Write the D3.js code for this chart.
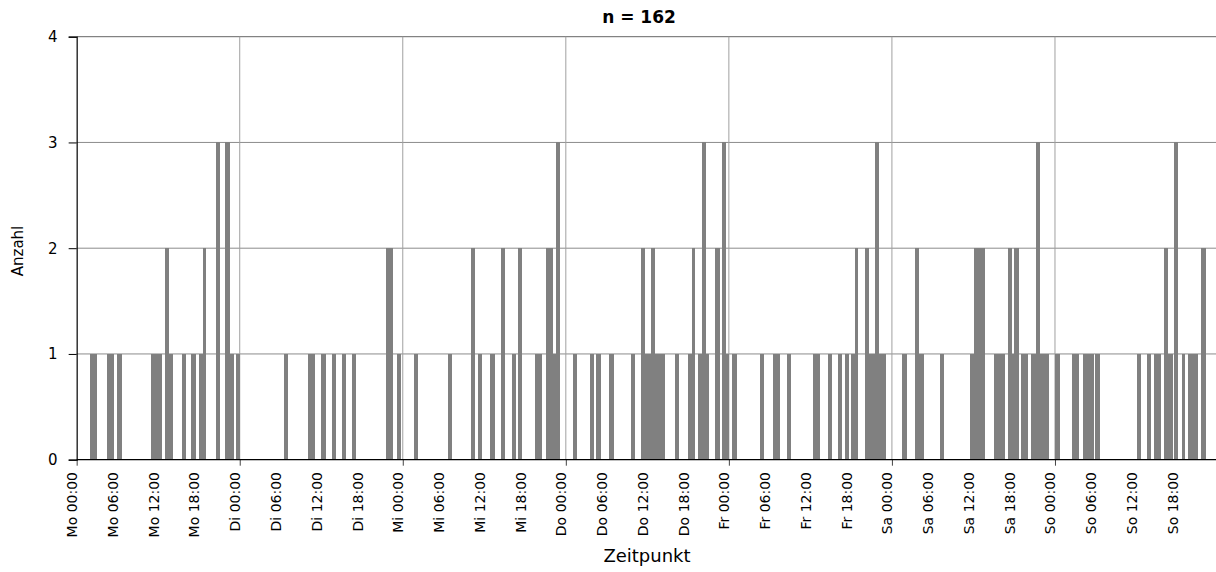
<!DOCTYPE html>
<html>
<head>
<meta charset="utf-8">
<script src="https://cdn.jsdelivr.net/npm/d3@7"></script>
<style>
  html, body { margin: 0; padding: 0; background: #fff; }
  svg { display: block; }
  text { font-family: "DejaVu Sans", sans-serif; fill: #000; }
</style>
</head>
<body>
<svg id="chart" width="1216" height="572"></svg>
<script>
// ---- data (hours since Monday 00:00, left edge of each bar) ----
const times = [
  1.96, 2.48, 4.47, 4.99, 5.94, 6.17, 10.94, 11.47, 12.01, 13.05, 13.58, 15.50, 16.83, 17.07,
  18.02, 18.54, 20.51, 21.84, 22.07, 22.60, 23.46,
  30.52, 34.05, 34.58, 35.96, 36.20, 37.63, 39.05, 40.53, 45.53, 46.06, 47.15,
  49.66, 54.66, 58.04, 59.12, 60.84, 61.07, 62.50, 64.12, 65.00, 67.46, 67.99, 69.08, 69.61,
  70.05, 70.55,
  73.09, 75.56, 76.44, 76.68, 78.35, 78.59, 81.63, 83.07, 83.57, 84.07, 84.54, 85.04, 85.54,
  86.07, 88.07, 89.98, 90.52, 91.49, 92.04, 92.57, 93.96, 94.19, 95.01, 95.52,
  96.46, 96.66, 100.58, 102.50, 103.02, 104.55, 108.37, 108.90, 110.58, 112.05, 113.08,
  113.97, 114.50, 116.04, 116.54, 117.01, 117.55, 118.05, 118.57,
  121.48, 121.72, 123.44, 123.93, 124.22, 127.07, 131.55, 132.08, 132.61, 133.15, 135.02,
  135.55, 136.08, 137.08, 137.58, 137.96, 138.20, 139.00, 139.52, 140.47, 140.71, 141.21,
  141.71, 142.21, 142.62,
  144.00, 144.24, 146.47, 147.00, 148.13, 148.66, 149.20, 149.89, 150.12, 156.07, 157.59,
  158.57, 159.10, 160.04, 160.54, 160.87, 161.56, 162.64, 163.59, 164.06, 164.55, 165.50, 165.74
];
const counts = [
  1, 1, 1, 1, 1, 1, 1, 1, 1, 2, 1, 1, 1, 1,
  1, 2, 3, 3, 3, 1, 1,
  1, 1, 1, 1, 1, 1, 1, 1, 2, 2, 1,
  1, 1, 2, 1, 1, 1, 2, 1, 2, 1, 1, 2, 2,
  1, 3,
  1, 1, 1, 1, 1, 1, 1, 2, 1, 1, 2, 1, 1,
  1, 1, 1, 2, 1, 3, 1, 2, 2, 3, 1,
  1, 1, 1, 1, 1, 1, 1, 1, 1, 1, 1,
  1, 2, 2, 1, 1, 3, 1, 1,
  1, 1, 2, 1, 1, 1, 1, 2, 2, 2, 1,
  1, 1, 2, 1, 2, 2, 1, 1, 1, 1, 3,
  1, 1, 1,
  1, 1, 1, 1, 1, 1, 1, 1, 1, 1, 1,
  1, 1, 2, 1, 1, 3, 1, 1, 1, 1, 2, 2
];
const barHours = 0.55;
const tickHours = [0, 6, 12, 18, 24, 30, 36, 42, 48, 54, 60, 66, 72, 78, 84, 90,
                   96, 102, 108, 114, 120, 126, 132, 138, 144, 150, 156, 162];
const tickLabels = ["Mo 00:00", "Mo 06:00", "Mo 12:00", "Mo 18:00",
                    "Di 00:00", "Di 06:00", "Di 12:00", "Di 18:00",
                    "Mi 00:00", "Mi 06:00", "Mi 12:00", "Mi 18:00",
                    "Do 00:00", "Do 06:00", "Do 12:00", "Do 18:00",
                    "Fr 00:00", "Fr 06:00", "Fr 12:00", "Fr 18:00",
                    "Sa 00:00", "Sa 06:00", "Sa 12:00", "Sa 18:00",
                    "So 00:00", "So 06:00", "So 12:00", "So 18:00"];
const dayHours = [24, 48, 72, 96, 120, 144];
const yTicks = [0, 1, 2, 3, 4];
const titleText = "n = 162";
const xTitle = "Zeitpunkt";
const yTitle = "Anzahl";

// ---- layout ----
const svg = d3.select("#chart");
const plotLeft = 76.67, dayW = 163.05, plotTop = 36.7, plotBottom = 459.7;
const x = d3.scaleLinear().domain([0, 168]).range([plotLeft, plotLeft + 7 * dayW]);
const y = d3.scaleLinear().domain([0, 4]).range([plotBottom, plotTop]);
const rightEdge = 1216;

// horizontal gridlines
svg.append("g").selectAll("line").data(yTicks.filter(d => d > 0)).join("line")
  .attr("x1", plotLeft).attr("x2", rightEdge)
  .attr("y1", d => y(d)).attr("y2", d => y(d))
  .attr("stroke", d => d === 4 ? "#666" : "#8c8c8c").attr("stroke-width", 1);

// vertical day gridlines
svg.append("g").selectAll("line").data(dayHours).join("line")
  .attr("x1", d => x(d)).attr("x2", d => x(d))
  .attr("y1", plotTop).attr("y2", plotBottom)
  .attr("stroke", "#a0a0a0").attr("stroke-width", 1);

// bars
const data = times.map((t, i) => ({ t, c: counts[i] }));
svg.append("g").selectAll("rect").data(data).join("rect")
  .attr("x", d => x(d.t))
  .attr("width", d => x(d.t + barHours) - x(d.t))
  .attr("y", d => y(d.c))
  .attr("height", d => y(0) - y(d.c))
  .attr("fill", "#808080")
  .attr("shape-rendering", "crispEdges");

// x axis
const xAxis = d3.axisBottom(x).tickValues([0].concat(dayHours)).tickSize(6).tickFormat("");
const gx = svg.append("g").attr("transform", `translate(0,${plotBottom})`).call(xAxis);
gx.select(".domain").remove();
gx.selectAll(".tick line").attr("stroke", "#444");
svg.append("line").attr("x1", plotLeft).attr("x2", rightEdge).attr("y1", plotBottom).attr("y2", plotBottom)
  .attr("stroke", "#000").attr("stroke-width", 1.2);

svg.append("g").selectAll("text").data(tickHours).join("text")
  .attr("transform", d => `translate(${x(d) + 0.5},472) rotate(-90)`)
  .attr("text-anchor", "end")
  .style("font-size", "14px")
  .text((d, i) => tickLabels[i]);

// y axis
const yAxis = d3.axisLeft(y).tickValues(yTicks).tickSize(8).tickPadding(11).tickFormat(d3.format("d"));
const gy = svg.append("g").attr("transform", `translate(${plotLeft},0)`).call(yAxis);
gy.select(".domain").attr("stroke", "#000").attr("stroke-width", 1.2);
gy.selectAll(".tick line").attr("stroke", "#000");
gy.selectAll(".tick text").style("font-size", "15px").style("font-family", "DejaVu Sans, sans-serif");

// titles
svg.append("text").attr("x", 639).attr("y", 23).attr("text-anchor", "middle")
  .style("font-size", "17px").style("font-weight", "bold").text(titleText);
svg.append("text").attr("x", 647).attr("y", 562).attr("text-anchor", "middle")
  .style("font-size", "18px").text(xTitle);
svg.append("text").attr("transform", "translate(23,251) rotate(-90)").attr("text-anchor", "middle")
  .style("font-size", "15px").text(yTitle);
</script>
</body>
</html>
